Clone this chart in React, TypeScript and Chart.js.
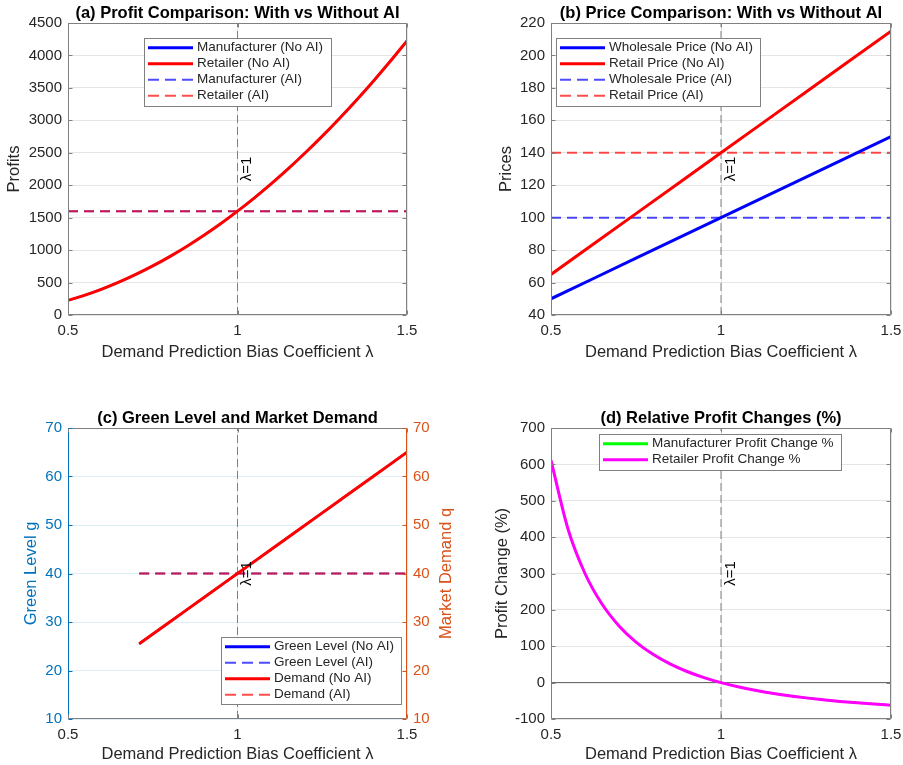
import React, { useEffect, useRef } from "react";
import { Chart, registerables } from "chart.js";

Chart.register(...registerables);

const FONT = "'Liberation Sans', Arial, Helvetica, sans-serif";
Chart.defaults.font.family = FONT;

// ---------- data ----------
const lambdaTicks = [0.5, 1, 1.5];
const profitTicks = [0, 500, 1000, 1500, 2000, 2500, 3000, 3500, 4000, 4500];
const priceTicks = [40, 60, 80, 100, 120, 140, 160, 180, 200, 220];
const levelTicks = [10, 20, 30, 40, 50, 60, 70];
const changeTicks = [-100, 0, 100, 200, 300, 400, 500, 600, 700];

const lambdaFine = [0.5, 0.55, 0.6, 0.65, 0.7, 0.75, 0.8, 0.85, 0.9, 0.95, 1.0, 1.05, 1.1, 1.15, 1.2, 1.25, 1.3, 1.35, 1.4, 1.45, 1.5];
const lambdaEnds = [0.5, 1.5];

// (a) profits
const manufacturerProfitNoAI = [225, 306, 400, 506, 625, 756, 900, 1056, 1225, 1406, 1600, 1806, 2025, 2256, 2500, 2756, 3025, 3306, 3600, 3906, 4225];
const retailerProfitNoAI = [225, 306, 400, 506, 625, 756, 900, 1056, 1225, 1406, 1600, 1806, 2025, 2256, 2500, 2756, 3025, 3306, 3600, 3906, 4225];
const manufacturerProfitAI = [1600, 1600];
const retailerProfitAI = [1600, 1600];

// (b) prices
const lambdaPrice = [0.5, 0.75, 1.0, 1.25, 1.5];
const wholesaleNoAI = [50, 75, 100, 125, 150];
const retailNoAI = [65, 102.5, 140, 177.5, 215];
const wholesaleAI = [100, 100];
const retailAI = [140, 140];

// (c) green level and demand
const lambdaDemand = [0.71, 0.8, 0.9, 1.0, 1.1, 1.2, 1.3, 1.4, 1.5];
const greenNoAI = [25.5, 30, 35, 40, 45, 50, 55, 60, 65];
const demandNoAI = [25.5, 30, 35, 40, 45, 50, 55, 60, 65];
const lambdaDemandEnds = [0.71, 1.5];
const greenAI = [40, 40];
const demandAI = [40, 40];

// (d) relative profit changes
const manufacturerChange = [611.1, 422.4, 300, 216.0, 156, 111.6, 77.8, 51.5, 30.6, 13.8, 0, -11.4, -21.0, -29.1, -36, -41.9, -47.1, -51.6, -55.6, -59.0, -62.1];
const retailerChange = [611.1, 422.4, 300, 216.0, 156, 111.6, 77.8, 51.5, 30.6, 13.8, 0, -11.4, -21.0, -29.1, -36, -41.9, -47.1, -51.6, -55.6, -59.0, -62.1];

const refLambda = 1;
const zeroRef = 0;

// ---------- styles ----------
const TXT = "#262626";
const GRID = "rgba(38,38,38,0.12)";
const BOX = "#808080";
const BLUE = "rgb(0,0,255)";
const RED = "rgb(255,0,0)";
const BLUE_D = "rgba(0,0,255,0.7)";
const RED_D = "rgba(255,0,0,0.7)";
const GREEN = "rgb(0,255,0)";
const MAGENTA = "rgb(255,0,255)";
const LBLUE = "rgb(0,114,189)";
const ORANGE = "rgb(217,83,25)";
const X_TITLE = "Demand Prediction Bias Coefficient λ";

const pts = (xs: number[], ys: number[]) => xs.map((x, i) => ({ x, y: ys[i] }));

const solid = (label: string, data: any[], color: string, order: number, yAxisID = "y", width = 3) => ({
  label, data, borderColor: color, backgroundColor: color, borderWidth: width, showLine: true,
  pointRadius: 0, pointHoverRadius: 0, fill: false, order, yAxisID, cubicInterpolationMode: "monotone",
});
const dashed = (label: string, data: any[], color: string, order: number, yAxisID = "y") => ({
  ...solid(label, data, color, order, yAxisID), borderWidth: 2, borderDash: [10, 6],
});
const refLine = (yTicks: number[], yAxisID = "y") => ({
  label: "ref", data: [{ x: refLambda, y: yTicks[0] }, { x: refLambda, y: yTicks[yTicks.length - 1] }],
  borderColor: "#808080", borderWidth: 1, borderDash: [8, 4], showLine: true, pointRadius: 0,
  fill: false, order: 20, yAxisID,
});

const xScale = (height: number, titleBottom: number) => ({
  type: "linear", position: "bottom", min: 0.5, max: 1.5,
  afterBuildTicks: (s: any) => { s.ticks = lambdaTicks.map((v) => ({ value: v })); },
  afterFit: (s: any) => { s.height = height; s.paddingLeft = 0; s.paddingRight = 0; },
  grid: { color: GRID, drawTicks: false },
  border: { display: false },
  ticks: { padding: 7, color: TXT, font: { size: 15 }, autoSkip: false, maxRotation: 0, callback: (v: any) => String(v) },
  title: { display: true, text: X_TITLE, color: TXT, font: { size: 16.5 }, padding: { top: 0, bottom: titleBottom } },
});

const yScale = (ticks: number[], width: number, titleText: string | null, titleTop: number, color: string, gridColor: string | null, position = "left") => ({
  type: "linear", position, min: ticks[0], max: ticks[ticks.length - 1],
  afterBuildTicks: (s: any) => { s.ticks = ticks.map((v) => ({ value: v })); },
  afterFit: (s: any) => { s.width = width; s.paddingTop = 0; s.paddingBottom = 0; },
  grid: { color: gridColor || "rgba(0,0,0,0)", drawTicks: false, display: gridColor !== null },
  border: { display: false },
  ticks: { padding: 6, color, font: { size: 15 }, autoSkip: false, callback: (v: any) => String(v) },
  title: titleText
    ? { display: true, text: titleText, color, font: { size: 16.5 }, padding: { top: titleTop, bottom: 0 } }
    : { display: false },
});

type LegendItem = { label: string; color: string; dashed: boolean };
type Decor = {
  title: string;
  legend: { x: number; y: number; w: number; h: number; items: LegendItem[] };
  yTicks: number[];
  leftColor: string;
  rightColor: string;
  rightTitle?: { text: string; x: number; color: string };
  y2Ticks?: number[];
};

const makeDecor = (d: Decor) => ({
  id: "decor",
  afterDraw(chart: any) {
    const { ctx, chartArea: a, scales } = chart;
    const L = Math.round(a.left) + 0.5;
    const R = Math.round(a.right) - 0.5;
    const T = Math.round(a.top) + 0.5;
    const B = Math.round(a.bottom) - 0.5;
    ctx.save();

    // λ=1 label
    const lx = scales.x.getPixelForValue(refLambda);
    ctx.save();
    ctx.translate(lx + 2, (a.top + a.bottom) / 2);
    ctx.rotate(-Math.PI / 2);
    ctx.font = `15px ${FONT}`;
    ctx.fillStyle = "#000";
    ctx.textAlign = "center";
    ctx.textBaseline = "top";
    ctx.fillText("λ=1", 0, 0);
    ctx.restore();

    // box
    ctx.lineWidth = 1;
    ctx.setLineDash([]);
    const seg = (x1: number, y1: number, x2: number, y2: number, c: string) => {
      ctx.strokeStyle = c;
      ctx.beginPath();
      ctx.moveTo(x1, y1);
      ctx.lineTo(x2, y2);
      ctx.stroke();
    };
    seg(L, T, R, T, BOX);
    seg(L, B, R, B, BOX);
    seg(L, T, L, B, d.leftColor);
    seg(R, T, R, B, d.rightColor);
    const TL = 4;
    lambdaTicks.forEach((v) => {
      const px = Math.round(scales.x.getPixelForValue(v)) + 0.5;
      seg(px, B, px, B - TL, BOX);
      seg(px, T, px, T + TL, BOX);
    });
    d.yTicks.forEach((v) => {
      const py = Math.round(scales.y.getPixelForValue(v)) + 0.5;
      seg(L, py, L + TL, py, d.leftColor);
      if (!d.y2Ticks) seg(R, py, R - TL, py, d.rightColor);
    });
    if (d.y2Ticks && scales.y2) {
      d.y2Ticks.forEach((v) => {
        const py = Math.round(scales.y2.getPixelForValue(v)) + 0.5;
        seg(R, py, R - TL, py, d.rightColor);
      });
    }

    // title
    ctx.font = `bold 16.5px ${FONT}`;
    ctx.fillStyle = "#000";
    ctx.textAlign = "center";
    ctx.textBaseline = "middle";
    ctx.fillText(d.title, (a.left + a.right) / 2, a.top - 10);

    // right title
    if (d.rightTitle) {
      ctx.save();
      ctx.translate(d.rightTitle.x, (a.top + a.bottom) / 2);
      ctx.rotate(-Math.PI / 2);
      ctx.font = `16.5px ${FONT}`;
      ctx.fillStyle = d.rightTitle.color;
      ctx.textAlign = "center";
      ctx.textBaseline = "middle";
      ctx.fillText(d.rightTitle.text, 0, 0);
      ctx.restore();
    }

    // legend
    const lg = d.legend;
    ctx.fillStyle = "#fff";
    ctx.fillRect(lg.x, lg.y, lg.w, lg.h);
    ctx.strokeStyle = BOX;
    ctx.lineWidth = 1;
    ctx.strokeRect(Math.round(lg.x) + 0.5, Math.round(lg.y) + 0.5, Math.round(lg.w), Math.round(lg.h));
    lg.items.forEach((it, i) => {
      const cy = lg.y + 9.7 + i * 16;
      ctx.strokeStyle = it.color;
      ctx.lineWidth = it.dashed ? 2 : 3;
      ctx.setLineDash(it.dashed ? [11, 6] : []);
      ctx.beginPath();
      ctx.moveTo(lg.x + 4, cy);
      ctx.lineTo(lg.x + 49, cy);
      ctx.stroke();
      ctx.setLineDash([]);
      ctx.font = `13.5px ${FONT}`;
      ctx.fillStyle = TXT;
      ctx.textAlign = "left";
      ctx.textBaseline = "middle";
      ctx.fillText(it.label, lg.x + 53, cy);
    });
    ctx.restore();
  },
});

const baseOptions = (layoutPad: any, scales: any) => ({
  responsive: false,
  animation: false,
  devicePixelRatio: 1,
  layout: { padding: layoutPad },
  plugins: { legend: { display: false }, tooltip: { enabled: false }, title: { display: false } },
  events: [],
  scales,
});

type Panel = { left: number; top: number; w: number; h: number; config: any };

function buildPanels(): Panel[] {
  // (a)
  const a: Panel = {
    left: 0, top: 0, w: 451, h: 380,
    config: {
      type: "scatter",
      data: {
        datasets: [
          solid("Retailer (No AI)", pts(lambdaFine, retailerProfitNoAI), RED, 1),
          solid("Manufacturer (No AI)", pts(lambdaFine, manufacturerProfitNoAI), BLUE, 2, "y", 2),
          dashed("Retailer (AI)", pts(lambdaEnds, retailerProfitAI), RED_D, 3),
          dashed("Manufacturer (AI)", pts(lambdaEnds, manufacturerProfitAI), BLUE_D, 4),
          refLine(profitTicks),
        ],
      },
      options: baseOptions({ left: 0, right: 44, top: 23, bottom: 0 }, {
        x: xScale(65, 18),
        y: yScale(profitTicks, 68, "Profits", 5, TXT, GRID),
      }),
      plugins: [makeDecor({
        title: "(a) Profit Comparison: With vs Without AI",
        legend: {
          x: 144, y: 38, w: 187, h: 68,
          items: [
            { label: "Manufacturer (No AI)", color: BLUE, dashed: false },
            { label: "Retailer (No AI)", color: RED, dashed: false },
            { label: "Manufacturer (AI)", color: BLUE_D, dashed: true },
            { label: "Retailer (AI)", color: RED_D, dashed: true },
          ],
        },
        yTicks: profitTicks, leftColor: BOX, rightColor: BOX,
      })],
    },
  };

  // (b)
  const b: Panel = {
    left: 451, top: 0, w: 452, h: 380,
    config: {
      type: "scatter",
      data: {
        datasets: [
          solid("Retail Price (No AI)", pts(lambdaPrice, retailNoAI), RED, 1),
          solid("Wholesale Price (No AI)", pts(lambdaPrice, wholesaleNoAI), BLUE, 2),
          dashed("Retail Price (AI)", pts(lambdaEnds, retailAI), RED_D, 3),
          dashed("Wholesale Price (AI)", pts(lambdaEnds, wholesaleAI), BLUE_D, 4),
          refLine(priceTicks),
        ],
      },
      options: baseOptions({ left: 0, right: 12, top: 23, bottom: 0 }, {
        x: xScale(65, 18),
        y: yScale(priceTicks, 100, "Prices", 46, TXT, GRID),
      }),
      plugins: [makeDecor({
        title: "(b) Price Comparison: With vs Without AI",
        legend: {
          x: 105, y: 38, w: 204, h: 68,
          items: [
            { label: "Wholesale Price (No AI)", color: BLUE, dashed: false },
            { label: "Retail Price (No AI)", color: RED, dashed: false },
            { label: "Wholesale Price (AI)", color: BLUE_D, dashed: true },
            { label: "Retail Price (AI)", color: RED_D, dashed: true },
          ],
        },
        yTicks: priceTicks, leftColor: BOX, rightColor: BOX,
      })],
    },
  };

  // (c)
  const c: Panel = {
    left: 0, top: 380, w: 460, h: 385,
    config: {
      type: "scatter",
      data: {
        datasets: [
          solid("Demand (No AI)", pts(lambdaDemand, demandNoAI), RED, 1, "y2"),
          solid("Green Level (No AI)", pts(lambdaDemand, greenNoAI), BLUE, 2, "y", 2),
          dashed("Demand (AI)", pts(lambdaDemandEnds, demandAI), RED_D, 3, "y2"),
          dashed("Green Level (AI)", pts(lambdaDemandEnds, greenAI), BLUE_D, 4, "y"),
          refLine(levelTicks),
        ],
      },
      options: baseOptions({ left: 0, right: 0, top: 48, bottom: 0 }, {
        x: xScale(46, 1),
        y: yScale(levelTicks, 68, "Green Level g", 22, LBLUE, "rgba(0,114,189,0.12)"),
        y2: yScale(levelTicks, 53, null, 0, ORANGE, null, "right"),
      }),
      plugins: [makeDecor({
        title: "(c) Green Level and Market Demand",
        legend: {
          x: 221, y: 257, w: 180, h: 67,
          items: [
            { label: "Green Level (No AI)", color: BLUE, dashed: false },
            { label: "Green Level (AI)", color: BLUE_D, dashed: true },
            { label: "Demand (No AI)", color: RED, dashed: false },
            { label: "Demand (AI)", color: RED_D, dashed: true },
          ],
        },
        yTicks: levelTicks, y2Ticks: levelTicks, leftColor: LBLUE, rightColor: ORANGE,
        rightTitle: { text: "Market Demand q", x: 446, color: ORANGE },
      })],
    },
  };

  // (d)
  const d: Panel = {
    left: 451, top: 380, w: 452, h: 385,
    config: {
      type: "scatter",
      data: {
        datasets: [
          solid("Retailer Profit Change %", pts(lambdaFine, retailerChange), MAGENTA, 1),
          solid("Manufacturer Profit Change %", pts(lambdaFine, manufacturerChange), GREEN, 2, "y", 2),
          {
            label: "zero", data: pts(lambdaEnds, [zeroRef, zeroRef]), borderColor: "#5a5a5a", borderWidth: 1,
            showLine: true, pointRadius: 0, fill: false, order: 19,
          },
          refLine(changeTicks),
        ],
      },
      options: baseOptions({ left: 0, right: 12, top: 48, bottom: 0 }, {
        x: xScale(46, 1),
        y: yScale(changeTicks, 100, "Profit Change (%)", 42, TXT, GRID),
      }),
      plugins: [makeDecor({
        title: "(d) Relative Profit Changes (%)",
        legend: {
          x: 148, y: 54, w: 242, h: 36,
          items: [
            { label: "Manufacturer Profit Change %", color: GREEN, dashed: false },
            { label: "Retailer Profit Change %", color: MAGENTA, dashed: false },
          ],
        },
        yTicks: changeTicks, leftColor: BOX, rightColor: BOX,
      })],
    },
  };

  return [a, b, c, d];
}

const PANELS = buildPanels();

export default function App() {
  const r0 = useRef<HTMLCanvasElement>(null);
  const r1 = useRef<HTMLCanvasElement>(null);
  const r2 = useRef<HTMLCanvasElement>(null);
  const r3 = useRef<HTMLCanvasElement>(null);
  const refs = [r0, r1, r2, r3];

  useEffect(() => {
    const panels = buildPanels();
    const charts = panels.map((p, i) => new Chart(refs[i].current as HTMLCanvasElement, p.config));
    return () => charts.forEach((ch) => ch.destroy());
  }, []);

  return (
    <div style={{ position: "absolute", left: 0, top: 0, width: 903, height: 765, background: "#fff", overflow: "hidden" }}>
      {PANELS.map((p, i) => (
        <canvas
          key={i}
          ref={refs[i]}
          width={p.w}
          height={p.h}
          style={{ position: "absolute", left: p.left, top: p.top, width: p.w, height: p.h }}
        />
      ))}
    </div>
  );
}
